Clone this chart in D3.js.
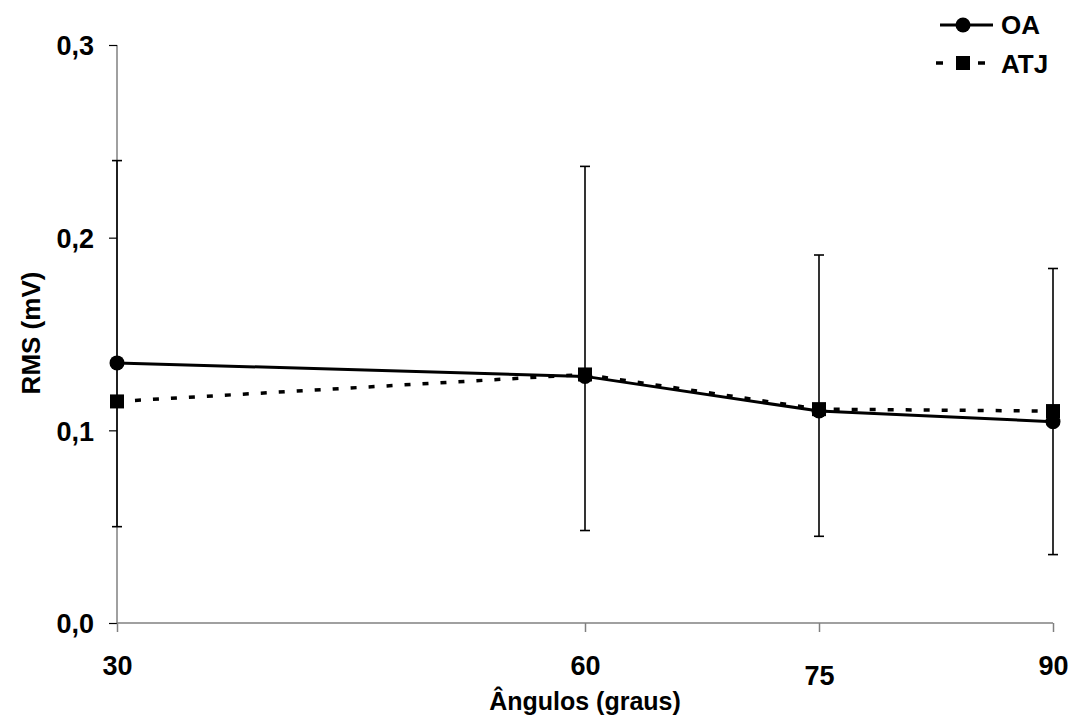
<!DOCTYPE html>
<html>
<head>
<meta charset="utf-8">
<script src="https://cdn.jsdelivr.net/npm/d3@7"></script>
<style>
  body { margin: 0; background: #fff; }
  text { font-family: "Liberation Sans", Arial, sans-serif; font-weight: bold; }
</style>
</head>
<body>
<script>
const angles = [30, 60, 75, 90];
const oaValues = [0.135, 0.128, 0.110, 0.1045];
const atjValues = [0.115, 0.129, 0.111, 0.110];
const errHigh = [0.240, 0.237, 0.191, 0.184];
const errLow = [0.050, 0.048, 0.045, 0.0355];
const yTicks = [0, 0.1, 0.2, 0.3];
const yTickLabels = ["0,0", "0,1", "0,2", "0,3"];

const svg = d3.select("body")
  .append("svg").attr("width", 1076).attr("height", 720);

const x = d3.scaleLinear().domain([30, 90]).range([117, 1053]);
const y = d3.scaleLinear().domain([0, 0.3]).range([623, 45]);

// y axis
const yAxis = svg.append("g")
  .attr("transform", "translate(117,0)")
  .call(d3.axisLeft(y).tickValues(yTicks).tickSize(8)
    .tickFormat((d, i) => yTickLabels[i]));
yAxis.select(".domain").attr("stroke", "#808080").attr("stroke-width", 1.5)
  .attr("d", "M0," + y(0.3) + "V" + y(0));
yAxis.selectAll(".tick line").attr("stroke", "#000").attr("stroke-width", 1.2);
yAxis.selectAll(".tick text").attr("x", -23).attr("dy", "0.36em").attr("font-size", 27)
  .attr("fill", "#000").style("font-family", "Liberation Sans, Arial").style("font-weight", "bold");

// x axis
const xAxis = svg.append("g")
  .attr("transform", "translate(0,623)")
  .call(d3.axisBottom(x).tickValues(angles).tickSize(9).tickFormat(d3.format("d")));
xAxis.select(".domain").attr("stroke", "#808080").attr("stroke-width", 1.5)
  .attr("d", "M" + x(30) + ",0H" + x(90));
xAxis.selectAll(".tick line").attr("stroke", "#808080").attr("stroke-width", 1.5);
xAxis.selectAll(".tick text")
  .attr("y", d => d === 75 ? 62 : 52)
  .attr("dy", "0").attr("font-size", 27)
  .attr("fill", "#000").style("font-family", "Liberation Sans, Arial").style("font-weight", "bold");

// error bars
const errG = svg.append("g").attr("stroke", "#000").attr("stroke-width", 1.6);
errG.selectAll("line.bar")
  .data(angles)
  .join("line")
  .attr("class", "bar")
  .attr("x1", d => x(d)).attr("x2", d => x(d))
  .attr("y1", (d, i) => y(errHigh[i]))
  .attr("y2", (d, i) => y(errLow[i]));
errG.selectAll("line.capTop")
  .data(angles)
  .join("line")
  .attr("class", "capTop")
  .attr("x1", d => x(d) - 5).attr("x2", d => x(d) + 5)
  .attr("y1", (d, i) => y(errHigh[i]))
  .attr("y2", (d, i) => y(errHigh[i]));
errG.selectAll("line.capBot")
  .data(angles)
  .join("line")
  .attr("class", "capBot")
  .attr("x1", d => x(d) - 5).attr("x2", d => x(d) + 5)
  .attr("y1", (d, i) => y(errLow[i]))
  .attr("y2", (d, i) => y(errLow[i]));

// lines
const line = d3.line().x(d => x(d[0])).y(d => y(d[1]));

svg.append("path")
  .datum(angles.map((a, i) => [a, oaValues[i]]))
  .attr("d", line)
  .attr("fill", "none").attr("stroke", "#000").attr("stroke-width", 3);

svg.selectAll("circle.oa")
  .data(angles)
  .join("circle")
  .attr("class", "oa")
  .attr("cx", d => x(d))
  .attr("cy", (d, i) => y(oaValues[i]))
  .attr("r", 7.5)
  .attr("fill", "#000");

svg.append("path")
  .datum(angles.map((a, i) => [a, atjValues[i]]))
  .attr("d", line)
  .attr("fill", "none").attr("stroke", "#000").attr("stroke-width", 3.5)
  .attr("stroke-dasharray", "6,12");

svg.selectAll("rect.atj")
  .data(angles)
  .join("rect")
  .attr("class", "atj")
  .attr("x", d => x(d) - 7)
  .attr("y", (d, i) => y(atjValues[i]) - 7)
  .attr("width", 14).attr("height", 14)
  .attr("fill", "#000");

// legend
const legend = svg.append("g");
legend.append("line")
  .attr("x1", 940).attr("x2", 993).attr("y1", 25).attr("y2", 25)
  .attr("stroke", "#000").attr("stroke-width", 3);
legend.append("circle").attr("cx", 963).attr("cy", 25).attr("r", 7.5).attr("fill", "#000");
legend.append("text").attr("x", 1001).attr("y", 34).attr("font-size", 26).text("OA");

legend.append("line")
  .attr("x1", 936).attr("x2", 990).attr("y1", 63).attr("y2", 63)
  .attr("stroke", "#000").attr("stroke-width", 3.5)
  .attr("stroke-dasharray", "7,14");
legend.append("rect").attr("x", 956).attr("y", 56).attr("width", 14).attr("height", 14).attr("fill", "#000");
legend.append("text").attr("x", 1001).attr("y", 73).attr("font-size", 26).text("ATJ");

// axis titles
svg.append("text")
  .attr("x", 585).attr("y", 710)
  .attr("text-anchor", "middle").attr("font-size", 25)
  .text("Ângulos (graus)");

svg.append("text")
  .attr("transform", "translate(40,333) rotate(-90)")
  .attr("text-anchor", "middle").attr("font-size", 26)
  .text("RMS (mV)");
</script>
</body>
</html>
